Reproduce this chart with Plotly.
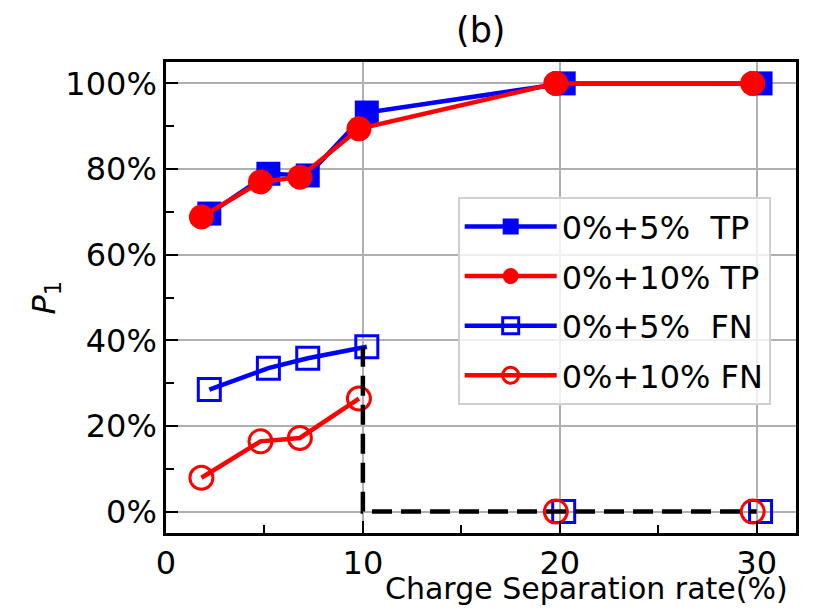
import plotly.graph_objects as go

# Charge separation rate (%) — the two noise settings are drawn slightly offset
x_5pct = [2.2, 5.2, 7.2, 10.2, 20.2, 30.2]
x_10pct = [1.8, 4.8, 6.8, 9.8, 19.8, 29.8]

# P1 values
tp_5pct = [0.696, 0.789, 0.785, 0.932, 1.0, 1.0]
tp_10pct = [0.688, 0.770, 0.781, 0.894, 1.0, 1.0]
fn_5pct = [0.285, 0.335, 0.358, 0.385, 0.0, 0.0]
fn_10pct = [0.079, 0.164, 0.172, 0.264, 0.0, 0.0]

# FN curves are joined only over the low-rate points; higher rates are markers only
FN_JOINED = 4

# Dashed reference step
step_x = [10, 10, 30]
step_y = [0.385, 0.0, 0.0]

labels = ["0%+5%\u00a0\u00a0TP", "0%+10%\u00a0TP", "0%+5%\u00a0\u00a0FN", "0%+10%\u00a0FN"]

FONT = "DejaVu Sans"
FS = 32
LW = 4.5

sq_open = dict(symbol="square-open", size=22, color="blue", line=dict(width=3, color="blue"))
ci_open = dict(symbol="circle-open", size=23, color="red", line=dict(width=3, color="red"))

fig = go.Figure()
fig.add_trace(go.Scatter(
    x=x_5pct, y=tp_5pct, name=labels[0], legendgroup="a", mode="lines+markers",
    line=dict(color="blue", width=LW),
    marker=dict(symbol="square", size=24, color="blue"),
))
fig.add_trace(go.Scatter(
    x=x_10pct, y=tp_10pct, name=labels[1], legendgroup="b", mode="lines+markers",
    line=dict(color="red", width=LW),
    marker=dict(symbol="circle", size=25, color="red"),
))
fig.add_trace(go.Scatter(
    x=x_5pct[:FN_JOINED], y=fn_5pct[:FN_JOINED], name=labels[2], legendgroup="c",
    mode="lines+markers", line=dict(color="blue", width=LW), marker=sq_open,
))
fig.add_trace(go.Scatter(
    x=x_5pct[FN_JOINED:], y=fn_5pct[FN_JOINED:], legendgroup="c", showlegend=False,
    mode="markers", marker=sq_open,
))
fig.add_trace(go.Scatter(
    x=x_10pct[:FN_JOINED], y=fn_10pct[:FN_JOINED], name=labels[3], legendgroup="d",
    mode="lines+markers", line=dict(color="red", width=LW), marker=ci_open,
))
fig.add_trace(go.Scatter(
    x=x_10pct[FN_JOINED:], y=fn_10pct[FN_JOINED:], legendgroup="d", showlegend=False,
    mode="markers", marker=ci_open,
))
fig.add_trace(go.Scatter(
    x=step_x, y=step_y, mode="lines", showlegend=False,
    line=dict(color="black", width=LW, dash="20px,9px"),
))

axis_common = dict(
    showline=True, linecolor="black", linewidth=2.5, mirror=True,
    showgrid=True, gridcolor="#b0b0b0", gridwidth=2,
    zeroline=False,
    ticks="inside", ticklen=12, tickwidth=2, tickcolor="black",
    tickfont=dict(family=FONT, size=FS, color="black"),
)

fig.update_xaxes(
    range=[0, 32], tickvals=[0, 10, 20, 30],
    minor=dict(ticks="inside", ticklen=8, tickwidth=2, tickcolor="black",
               tickvals=[5, 15, 25], showgrid=False),
    **axis_common,
)
fig.update_yaxes(
    range=[-0.05, 1.05], tickvals=[0, 0.2, 0.4, 0.6, 0.8, 1.0], tickformat=".0%",
    minor=dict(ticks="inside", ticklen=8, tickwidth=2, tickcolor="black",
               tickvals=[0.1, 0.3, 0.5, 0.7, 0.9], showgrid=False),
    **axis_common,
)

fig.update_layout(
    width=821, height=609,
    margin=dict(l=166, r=25, t=62, b=76),
    paper_bgcolor="white", plot_bgcolor="white",
    font=dict(family=FONT, color="black"),
    legend=dict(
        x=0.463, y=0.713, xanchor="left", yanchor="top",
        bgcolor="rgba(255,255,255,0.8)", bordercolor="#d0d0d0", borderwidth=2,
        font=dict(family=FONT, size=FS, color="black"),
        itemwidth=92, traceorder="grouped", tracegroupgap=5,
    ),
    annotations=[
        dict(text="(b)", x=0.5, y=1.068, xref="paper", yref="paper",
             showarrow=False, xanchor="center", yanchor="middle",
             font=dict(family=FONT, size=35, color="black")),
        dict(text="Charge Separation rate(%)", x=0.99, y=-0.118, xref="paper", yref="paper",
             showarrow=False, xanchor="right", yanchor="middle",
             font=dict(family=FONT, size=30, color="black")),
        dict(text="<i>P</i><sub>1</sub>", x=-0.192, y=0.5, xref="paper", yref="paper",
             showarrow=False, xanchor="center", yanchor="middle", textangle=-90,
             font=dict(family=FONT, size=FS, color="black")),
    ],
)

fig.write_html("out.html")
